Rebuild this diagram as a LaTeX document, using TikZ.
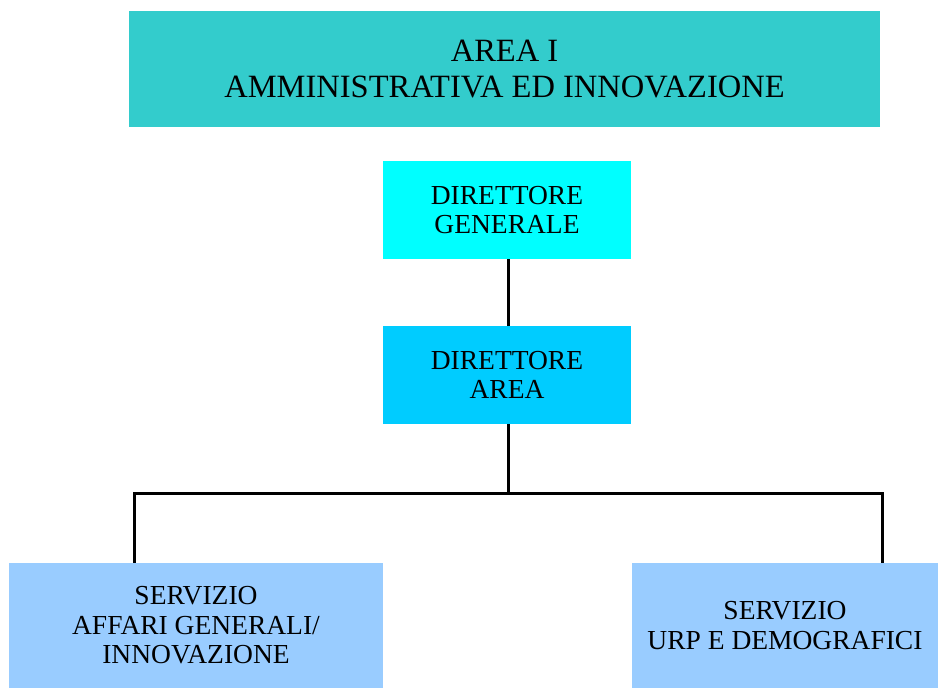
\documentclass[tikz,border=0pt]{standalone}
\usepackage{fontspec}
\setmainfont{Liberation Serif}
\definecolor{topc}{HTML}{33CCCC}
\definecolor{dgc}{HTML}{00FFFF}
\definecolor{dac}{HTML}{00CCFF}
\definecolor{svc}{HTML}{99CCFF}
\begin{document}
\begin{tikzpicture}[x=1pt,y=-1pt,
  box/.style={rectangle, draw=none, inner sep=0pt, align=center, anchor=center},
  conn/.style={line width=3pt, black},
  big/.style={font=\fontsize{32.5}{36}\selectfont},
  med/.style={font=\fontsize{27.5}{29.5}\selectfont}]
\useasboundingbox (0,0) rectangle (938,688);
\node[box, big, fill=topc, minimum width=751pt, minimum height=116pt] (top) at (504.5,69) {AREA I\\AMMINISTRATIVA ED INNOVAZIONE};
\node[box, med, fill=dgc, minimum width=248pt, minimum height=98pt] (dg) at (507,210) {DIRETTORE\\GENERALE};
\node[box, med, fill=dac, minimum width=248pt, minimum height=98pt] (da) at (507,375) {DIRETTORE\\AREA};
\node[box, med, fill=svc, minimum width=374pt, minimum height=125pt] (sl) at (196,625.5) {\raisebox{-4pt}{\parbox{370pt}{\centering SERVIZIO\\AFFARI GENERALI/\\INNOVAZIONE}}};
\node[box, med, fill=svc, minimum width=306pt, minimum height=125pt] (sr) at (785,625.5) {\raisebox{-4pt}{\parbox{300pt}{\centering SERVIZIO\\URP E DEMOGRAFICI}}};
\coordinate (bus) at (508,493);
\coordinate (lj) at (134,493);
\coordinate (rj) at (882,493);
\draw[conn] (dg.south -| bus) -- (da.north -| bus);
\draw[conn] (da.south -| bus) -- (bus);
\draw[conn] (lj |- sl.north) -- (lj) -- (rj) -- (rj |- sr.north);
\end{tikzpicture}
\end{document}
